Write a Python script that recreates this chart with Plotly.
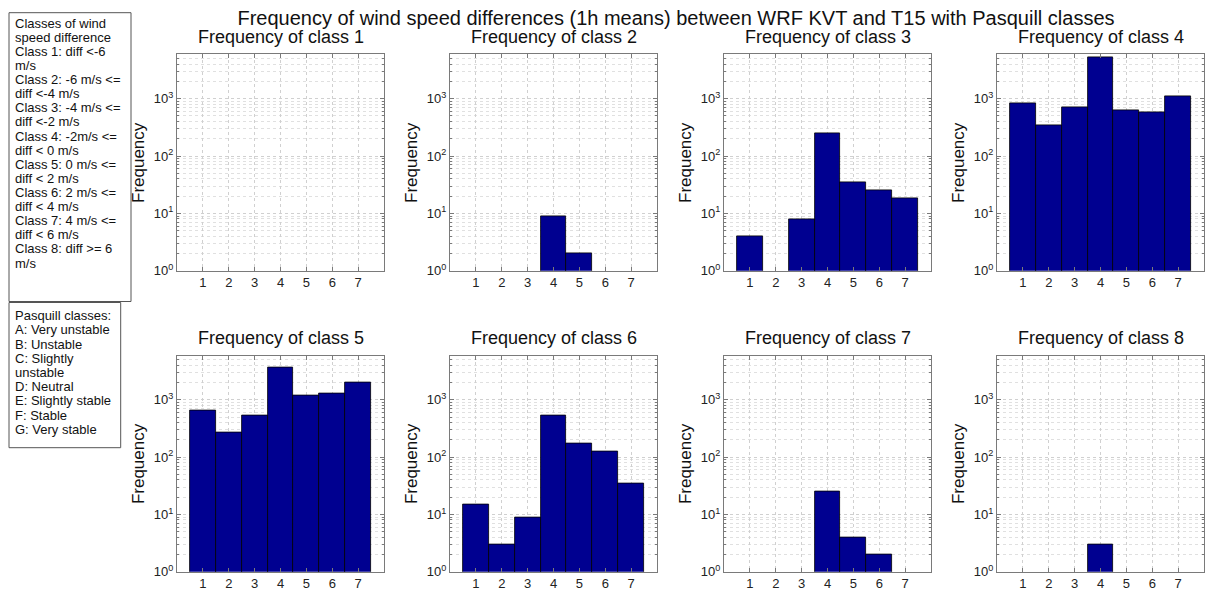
import plotly.graph_objects as go

# Pasquill stability classes on the x axis (1 = A ... 7 = G)
pasquill = [1, 2, 3, 4, 5, 6, 7]

# counts per wind-speed-difference class (0 = no bar)
class1 = [0, 0, 0, 0, 0, 0, 0]
class2 = [0, 0, 0, 9, 2, 0, 0]
class3 = [4, 0, 8, 246, 35, 25, 18]
class4 = [830, 350, 700, 5200, 620, 590, 1100]
class5 = [650, 265, 530, 3750, 1190, 1270, 1990]
class6 = [15, 3, 9, 525, 171, 127, 34]
class7 = [0, 0, 0, 25, 4, 2, 0]
class8 = [0, 0, 0, 3, 0, 0, 0]

all_classes = [class1, class2, class3, class4, class5, class6, class7, class8]
subplot_titles = ["Frequency of class %d" % (i + 1) for i in range(8)]

ytick_vals = [1, 10, 100, 1000]
ytick_text = ["10<sup>0</sup>", "10<sup>1</sup>", "10<sup>2</sup>", "10<sup>3</sup>"]

box1_lines = [
    "Classes of wind", "speed difference",
    "Class 1: diff &lt;-6", "m/s",
    "Class 2: -6 m/s &lt;=", "diff &lt;-4 m/s",
    "Class 3: -4 m/s &lt;=", "diff &lt;-2 m/s",
    "Class 4: -2m/s &lt;=", "diff &lt; 0 m/s",
    "Class 5: 0 m/s &lt;=", "diff &lt; 2 m/s",
    "Class 6: 2 m/s &lt;=", "diff &lt; 4 m/s",
    "Class 7: 4 m/s &lt;=", "diff &lt; 6 m/s",
    "Class 8: diff &gt;= 6", "m/s",
]
box2_lines = [
    "Pasquill classes:", "A: Very unstable", "B: Unstable", "C: Slightly",
    "unstable", "D: Neutral", "E: Slightly stable", "F: Stable", "G: Very stable",
]

W, H = 1205, 590
FONT = "Liberation Sans, Arial, sans-serif"
BAR = "#000090"
FRAME = "#7a7a7a"
GRID = "#d0d0d0"

col_left = [177, 450, 724, 997]
plot_w = 207
row_top = [54.3, 355.5]
row_bot = [270.7, 571.7]


def px(x):
    return x / W


def py(y):
    return 1 - y / H


fig = go.Figure()
annotations = []
layout = {}

for k, counts in enumerate(all_classes):
    r, c = divmod(k, 4)
    n = k + 1
    xa = "x" if n == 1 else "x%d" % n
    ya = "y" if n == 1 else "y%d" % n
    fig.add_trace(go.Bar(
        x=pasquill,
        y=[v if v > 0 else None for v in counts],
        width=1,
        marker=dict(color=BAR, line=dict(color="black", width=0.8)),
        xaxis=xa, yaxis=ya, showlegend=False,
    ))
    x0, x1 = col_left[c], min(col_left[c] + plot_w, W - 1)
    layout["xaxis" if n == 1 else "xaxis%d" % n] = dict(
        domain=[px(x0), px(x1)], anchor=ya, range=[0, 8], automargin=False,
        tickvals=pasquill, ticks="inside", ticklen=4, tickcolor=FRAME,
        showline=True, mirror="ticks", linecolor=FRAME, linewidth=1,
        showgrid=True, gridcolor=GRID, griddash="dot", gridwidth=1,
        zeroline=False, tickfont=dict(size=13, color="#222"),
    )
    layout["yaxis" if n == 1 else "yaxis%d" % n] = dict(
        domain=[py(row_bot[r]), py(row_top[r])], anchor=xa, type="log",
        range=[0, 3.775], tickvals=ytick_vals, ticktext=ytick_text,
        automargin=False,
        ticks="inside", ticklen=4, tickcolor=FRAME,
        showline=True, mirror="ticks", linecolor=FRAME, linewidth=1,
        showgrid=True, gridcolor=GRID, griddash="dot", gridwidth=1,
        minor=dict(dtick="D1", ticks="inside", ticklen=2, tickcolor=FRAME,
                   showgrid=True, gridcolor="#e0e0e0", griddash="dot"),
        zeroline=False, tickfont=dict(size=13, color="#222"),
    )
    cx = col_left[c] + plot_w / 2
    annotations.append(dict(
        text=subplot_titles[k], x=px(cx), y=py(row_top[r] - 17.5),
        xref="paper", yref="paper", showarrow=False,
        xanchor="center", yanchor="middle",
        font=dict(size=18, color="#111", family=FONT),
    ))
    annotations.append(dict(
        text="Frequency", x=px(col_left[c] - 38.5), y=py((row_top[r] + row_bot[r]) / 2),
        xref="paper", yref="paper", showarrow=False, textangle=-90,
        xanchor="center", yanchor="middle",
        font=dict(size=17, color="#111", family=FONT),
    ))

# legend-like text boxes on the left
for i, line in enumerate(box1_lines):
    annotations.append(dict(
        text=line, x=px(13), y=py(23.3 + i * 14.1), xref="paper", yref="paper",
        showarrow=False, xanchor="left", yanchor="middle",
        font=dict(size=13, color="#111", family=FONT),
    ))
for i, line in enumerate(box2_lines):
    annotations.append(dict(
        text=line, x=px(13), y=py(315.7 + i * 14.2), xref="paper", yref="paper",
        showarrow=False, xanchor="left", yanchor="middle",
        font=dict(size=13, color="#111", family=FONT),
    ))

shapes = [
    dict(type="rect", xref="paper", yref="paper", x0=px(9), x1=px(131),
         y0=py(301.5), y1=py(12.7), line=dict(color="#555", width=1)),
    dict(type="rect", xref="paper", yref="paper", x0=px(9), x1=px(120.7),
         y0=py(447.7), y1=py(302.5), line=dict(color="#555", width=1)),
]

fig.update_layout(
    **layout,
    width=W, height=H,
    margin=dict(l=0, r=0, t=0, b=0, autoexpand=False),
    paper_bgcolor="white", plot_bgcolor="white",
    title=dict(
        text="Frequency of wind speed differences (1h means) between WRF KVT and T15 with Pasquill classes",
        x=676 / W, y=py(17.5), xanchor="center", yanchor="middle",
        font=dict(size=20, color="#111", family=FONT),
    ),
    font=dict(family=FONT),
    annotations=annotations,
    shapes=shapes,
    bargap=0,
)

# the page body has a default 8px margin; drop it so the figure sits at (0, 0)
fig.write_html(
    "out.html",
    config={"displayModeBar": False},
    post_script="document.body.style.margin='0';document.body.style.overflow='hidden';",
)
